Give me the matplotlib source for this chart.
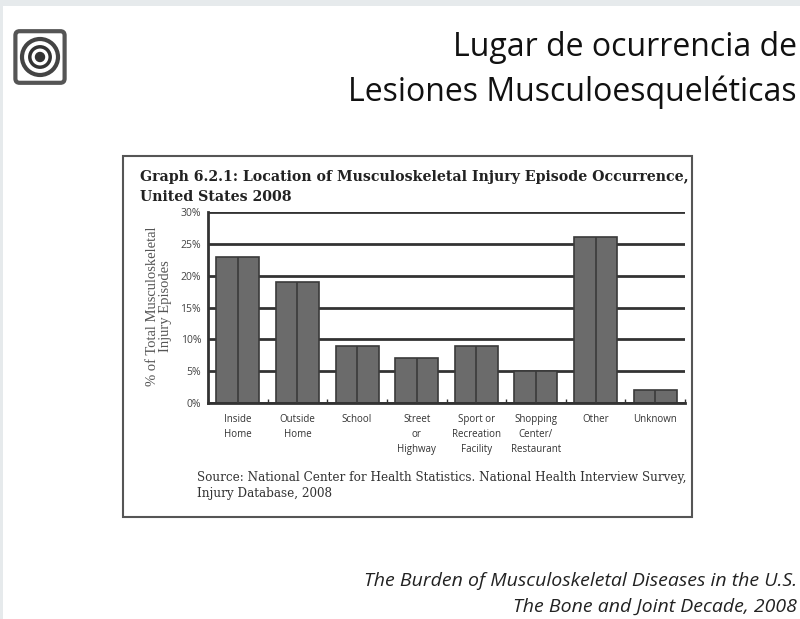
import numpy as np
import matplotlib
matplotlib.use("Agg")
import matplotlib.pyplot as plt
from matplotlib.patches import Rectangle, Circle, FancyBboxPatch

# data
categories = ["Inside\nHome", "Outside\nHome", "School", "Street\nor\nHighway",
              "Sport or\nRecreation\nFacility", "Shopping\nCenter/\nRestaurant",
              "Other", "Unknown"]
values = [23, 19, 9, 7, 9, 5, 26, 2]
yticks = [0, 5, 10, 15, 20, 25, 30]
ytick_labels = ["0%", "5%", "10%", "15%", "20%", "25%", "30%"]

W, H = 800, 619


def px(x, y):
    return x / W, 1 - y / H


fig = plt.figure(figsize=(8, 6.19), dpi=100)
fig.patch.set_facecolor("white")

# light strip at top / left of the slide
fig.patches.append(Rectangle((0, 1 - 6 / H), 1, 6 / H, transform=fig.transFigure,
                             facecolor="#e6eaec", edgecolor="none"))
fig.patches.append(Rectangle((0, 0), 3 / W, 1, transform=fig.transFigure,
                             facecolor="#e6eaec", edgecolor="none"))

# rough logo
lx, ly = px(40, 57)
logo = fig.add_axes([lx - 30 / W, ly - 30 / H, 60 / W, 60 / H])
logo.set_xlim(-1, 1)
logo.set_ylim(-1, 1)
logo.axis("off")
logo.add_patch(FancyBboxPatch((-0.68, -0.72), 1.36, 1.44, boxstyle="round,pad=0.14",
                              fill=False, lw=3, ec="#555555"))
logo.add_patch(Circle((0, 0), 0.6, fill=False, lw=3, ec="#444444"))
logo.add_patch(Circle((0, 0), 0.34, fill=False, lw=2.5, ec="#333333"))
logo.add_patch(Circle((0, 0), 0.15, color="#333333"))

# slide title
fig.text(*px(797, 48), "Lugar de ocurrencia de", ha="right", va="center",
         fontsize=23, family="Open Sans", color="#111111")
fig.text(*px(797, 92), "Lesiones Musculoesqueléticas", ha="right", va="center",
         fontsize=23, family="Open Sans", color="#111111")

# frame around the embedded chart
fig.patches.append(Rectangle(px(123, 517), 569 / W, 361 / H, transform=fig.transFigure,
                             fill=False, edgecolor="#555555", linewidth=1.5))

fig.text(*px(140, 177), "Graph 6.2.1: Location of Musculoskeletal Injury Episode Occurrence,",
         ha="left", va="center", fontsize=10.2, family="DejaVu Serif",
         fontweight="bold", color="#222222")
fig.text(*px(140, 197), "United States 2008", ha="left", va="center", fontsize=10.2,
         family="DejaVu Serif", fontweight="bold", color="#222222")

ax = fig.add_axes([208 / W, 216 / H, 477 / W, 191 / H])
x = np.arange(len(categories))
ax.set_xlim(-0.5, len(categories) - 0.5)
ax.set_ylim(0, 30)
ax.set_axisbelow(True)
ax.grid(axis="y", color="#333333", linewidth=2)
ax.bar(x, values, width=0.72, color="#6b6b6b", edgecolor="#3a3a3a", linewidth=1.2, zorder=2)
ax.vlines(x, 0, values, color="#3a3a3a", linewidth=1.2, zorder=3)

ax.set_yticks(yticks)
ax.set_yticklabels(ytick_labels, family="Open Sans", fontsize=7.5, color="#444444")
ax.set_xticks(x)
ax.set_xticklabels(categories, family="Open Sans", fontsize=7, color="#333333",
                   linespacing=1.5, va="top")
ax.tick_params(axis="x", length=0, pad=8)
ax.tick_params(axis="y", length=0, pad=5)
ax.set_xticks(np.arange(len(categories) + 1) - 0.5, minor=True)
ax.tick_params(axis="x", which="minor", direction="in", length=3, width=1, color="#333333")
for s in ["top", "right"]:
    ax.spines[s].set_visible(False)
ax.spines["left"].set_linewidth(2)
ax.spines["left"].set_color("#333333")
ax.spines["bottom"].set_linewidth(2)
ax.spines["bottom"].set_color("#333333")

fig.text(*px(159, 306), "% of Total Musculoskeletal\nInjury Episodes", rotation=90,
         ha="center", va="center", fontsize=10.5, family="Liberation Serif",
         color="#555555", linespacing=1.05)

fig.text(*px(197, 477), "Source: National Center for Health Statistics. National Health Interview Survey,",
         ha="left", va="center", fontsize=8.65, family="DejaVu Serif", color="#333333")
fig.text(*px(197, 493), "Injury Database, 2008", ha="left", va="center", fontsize=8.65,
         family="DejaVu Serif", color="#333333")

fig.text(*px(797, 581), "The Burden of Musculoskeletal Diseases in the U.S.", ha="right",
         va="center", fontsize=14, family="Open Sans", style="italic", color="#222222")
fig.text(*px(797, 607), "The Bone and Joint Decade, 2008", ha="right", va="center",
         fontsize=14, family="Open Sans", style="italic", color="#222222")

fig.savefig("out.png", dpi=100)
